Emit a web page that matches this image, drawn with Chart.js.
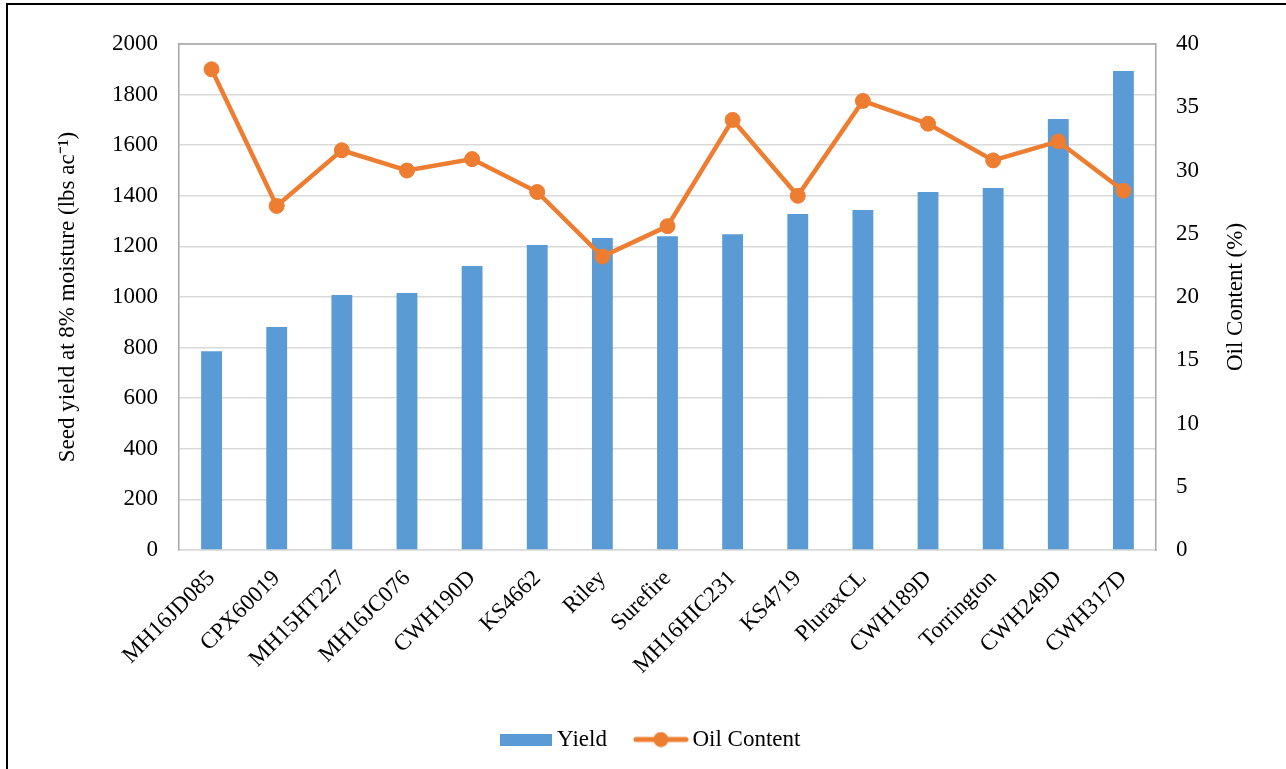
<!DOCTYPE html>
<html>
<head>
<meta charset="utf-8">
<script src="https://cdn.jsdelivr.net/npm/chart.js@4/dist/chart.umd.min.js"></script>
<style>
  html, body { margin: 0; padding: 0; background: #fff; overflow: hidden; }
  #wrap { position: relative; width: 1286px; height: 769px; }
  #frame { position: absolute; left: 6px; top: 3px; width: 1300px; height: 800px; border: 2px solid #000; pointer-events: none; }
</style>
</head>
<body>
<div id="wrap">
  <canvas id="c" width="1286" height="769"></canvas>
  <div id="frame"></div>
</div>
<script>
const categories = ["MH16JD085","CPX60019","MH15HT227","MH16JC076","CWH190D","KS4662","Riley","Surefire","MH16HIC231","KS4719","PluraxCL","CWH189D","Torrington","CWH249D","CWH317D"];
const yieldValues = [786, 881, 1008, 1016, 1123, 1206, 1233, 1240, 1248, 1328, 1344, 1415, 1431, 1704, 1893];
const oilValues = [38.0, 27.2, 31.6, 30.0, 30.9, 28.3, 23.2, 25.6, 34.0, 28.0, 35.5, 33.7, 30.8, 32.3, 28.4];
const leftTicks = [0, 200, 400, 600, 800, 1000, 1200, 1400, 1600, 1800, 2000];
const rightTicks = [0, 5, 10, 15, 20, 25, 30, 35, 40];
const leftTitle = 'Seed yield at 8% moisture (lbs ac\u207B\u00B9)';
const rightTitle = 'Oil Content (%)';

const BLUE = '#5B9BD5';
const ORANGE = '#ED7D31';
const FONT = 'Liberation Serif, Times New Roman, serif';
const FS = 23;

function yieldSwatch() {
  const c = document.createElement('canvas');
  c.width = 52; c.height = 12;
  const g = c.getContext('2d');
  g.fillStyle = BLUE; g.fillRect(0, 0, 52, 12);
  return c;
}
function oilSwatch() {
  const c = document.createElement('canvas');
  c.width = 56; c.height = 16;
  const g = c.getContext('2d');
  g.strokeStyle = ORANGE; g.lineWidth = 5; g.lineCap = 'round';
  g.beginPath(); g.moveTo(3, 8); g.lineTo(53, 8); g.stroke();
  g.fillStyle = ORANGE; g.beginPath(); g.arc(28, 8, 7.5, 0, Math.PI * 2); g.fill();
  return c;
}

const frameTop = {
  id: 'frameTop',
  beforeDatasetsDraw(chart) {
    const a = chart.chartArea, ctx = chart.ctx;
    ctx.save();
    ctx.strokeStyle = '#A6A6A6'; ctx.lineWidth = 1.5;
    ctx.beginPath(); ctx.moveTo(a.left, a.top); ctx.lineTo(a.right, a.top); ctx.stroke();
    ctx.restore();
  }
};

// right-axis title reading bottom-to-top, as in the reference
const rightAxisTitle = {
  id: 'rightAxisTitle',
  afterDraw(chart) {
    const s = chart.scales.y1, a = chart.chartArea, ctx = chart.ctx;
    ctx.save();
    ctx.font = FS + 'px ' + FONT;
    ctx.fillStyle = '#000';
    ctx.textAlign = 'center';
    ctx.textBaseline = 'middle';
    ctx.translate(s.right - 50, (a.top + a.bottom) / 2);
    ctx.rotate(-Math.PI / 2);
    ctx.fillText(rightTitle, 0, 0);
    ctx.restore();
  }
};

new Chart(document.getElementById('c'), {
  type: 'bar',
  data: {
    labels: categories,
    datasets: [
      {
        type: 'line', label: 'Oil Content', data: oilValues, yAxisID: 'y1',
        borderColor: ORANGE, backgroundColor: ORANGE, borderWidth: 4.5,
        pointRadius: 7.5, pointHoverRadius: 7.5, pointBackgroundColor: ORANGE, pointBorderColor: ORANGE, pointBorderWidth: 1,
        tension: 0, order: 0
      },
      {
        type: 'bar', label: 'Yield', data: yieldValues, yAxisID: 'y',
        backgroundColor: BLUE, borderWidth: 0,
        barPercentage: 0.32, categoryPercentage: 1.0, order: 1
      }
    ]
  },
  options: {
    responsive: false,
    animation: false,
    layout: { padding: { left: 20, right: 0, top: 44, bottom: 8 } },
    plugins: {
      tooltip: { enabled: false },
      legend: {
        position: 'bottom',
        labels: {
          font: { family: FONT, size: FS },
          color: '#000',
          usePointStyle: true,
          pointStyleWidth: 40,
          padding: 34,
          generateLabels() {
            return [
              { text: 'Yield', pointStyle: yieldSwatch(), fillStyle: BLUE, strokeStyle: BLUE, lineWidth: 0, hidden: false, datasetIndex: 1, fontColor: '#000' },
              { text: 'Oil Content', pointStyle: oilSwatch(), fillStyle: ORANGE, strokeStyle: ORANGE, lineWidth: 0, hidden: false, datasetIndex: 0, fontColor: '#000' }
            ];
          }
        }
      }
    },
    scales: {
      x: {
        grid: { display: false, drawTicks: false },
        border: { display: true, color: '#D9D9D9', width: 1.5 },
        ticks: { font: { family: FONT, size: FS }, color: '#000', minRotation: 45, maxRotation: 45, autoSkip: false, padding: 15 },
        afterFit(s) { s.height = 144; }
      },
      y: {
        position: 'left', min: 0, max: 2000,
        afterBuildTicks(s) { s.ticks = leftTicks.map(v => ({ value: v })); },
        grid: { color: '#D9D9D9', lineWidth: 1.5, drawTicks: false },
        border: { display: true, color: '#A6A6A6', width: 1.5 },
        ticks: { font: { family: FONT, size: FS }, color: '#000', padding: 21, callback: v => String(v) },
        title: { display: true, text: leftTitle, font: { family: FONT, size: FS }, color: '#000', padding: { top: 34, bottom: 0 } },
        afterFit(s) { s.width = 159; }
      },
      y1: {
        position: 'right', min: 0, max: 40,
        afterBuildTicks(s) { s.ticks = rightTicks.map(v => ({ value: v })); },
        grid: { drawOnChartArea: false, drawTicks: false },
        border: { display: true, color: '#A6A6A6', width: 1.5 },
        ticks: { font: { family: FONT, size: FS }, color: '#000', padding: 20, callback: v => String(v) },
        title: { display: false },
        afterFit(s) { s.width = 130; }
      }
    }
  },
  plugins: [frameTop, rightAxisTitle]
});
</script>
</body>
</html>
